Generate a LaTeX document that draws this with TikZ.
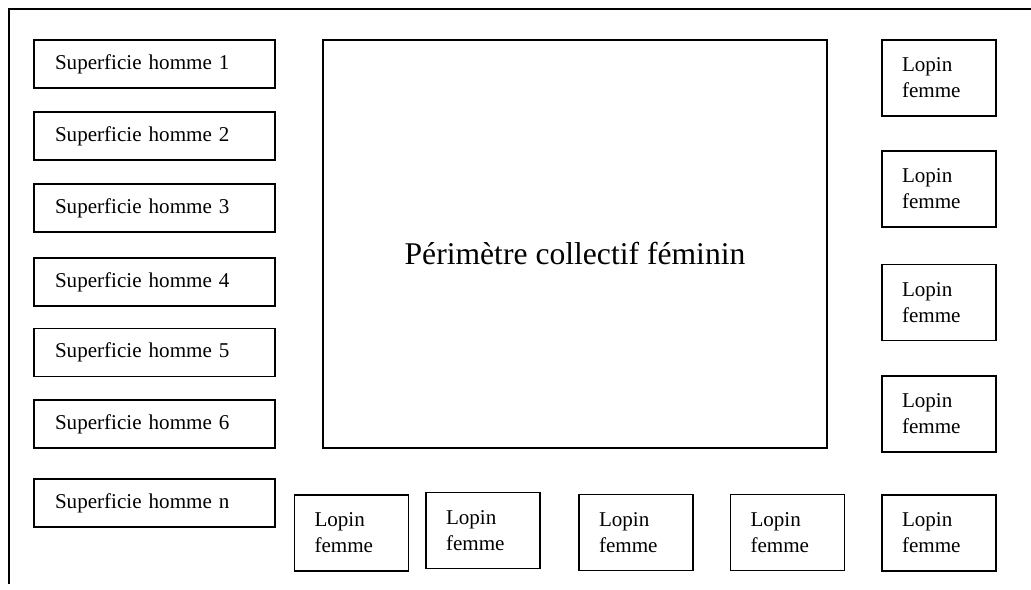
\documentclass[tikz,border=0pt]{standalone}
\usepackage{fontspec}
\setmainfont{Liberation Serif}
\usepackage{tikz}
\usetikzlibrary{shapes,positioning}
\tikzset{homme/.style={rectangle,draw,line width=0.9pt,minimum width=4.82cm,minimum height=0.96cm,text width=3.98cm,inner xsep=0.42cm,align=left,font=\fontsize{12}{14}\selectfont}}
\tikzset{lopin/.style={rectangle,draw,line width=0.9pt,minimum width=2.28cm,minimum height=1.52cm,text width=1.48cm,inner xsep=0.4cm,align=left,font=\fontsize{12}{14.8}\selectfont}}

\begin{document}
\begin{tikzpicture}[x=0.02cm,y=-0.02cm]
    \useasboundingbox (0,0) rectangle (1031,589);
    \draw [line width=0.9pt] (9,584) -- (9,9) -- (1031,9);

    \node[homme] (h1) at (154.5,64) {Superficie homme 1};
    \node[homme] (h2) at (154.5,136) {Superficie homme 2};
    \node[homme] (h3) at (154.5,208) {Superficie homme 3};
    \node[homme] (h4) at (154.5,282) {Superficie homme 4};
    \node[homme] (h5) at (154.5,352.5) {Superficie homme 5};
    \node[homme] (h6) at (154.5,424) {Superficie homme 6};
    \node[homme] (hn) at (154.5,503) {Superficie homme n};

    \node[rectangle,draw,line width=0.9pt,minimum width=10.08cm,minimum height=8.16cm] (pc) at (575,244) {};
    \node[font=\fontsize{18}{22}\selectfont] (pct) at (575,254) {Périmètre collectif féminin};

    \node[lopin] (l1) at (939,78) {Lopin\\femme};
    \node[lopin] (l2) at (939,189) {Lopin\\femme};
    \node[lopin] (l3) at (939,302.5) {Lopin\\femme};
    \node[lopin] (l4) at (939,414) {Lopin\\femme};
    \node[lopin] (l5) at (939,533) {Lopin\\femme};
    \node[lopin] (la) at (351.5,533) {Lopin\\femme};
    \node[lopin] (lb) at (483,530.5) {Lopin\\femme};
    \node[lopin] (lc) at (636,532.5) {Lopin\\femme};
    \node[lopin] (ld) at (787.5,532.5) {Lopin\\femme};
\end{tikzpicture}
\end{document}
